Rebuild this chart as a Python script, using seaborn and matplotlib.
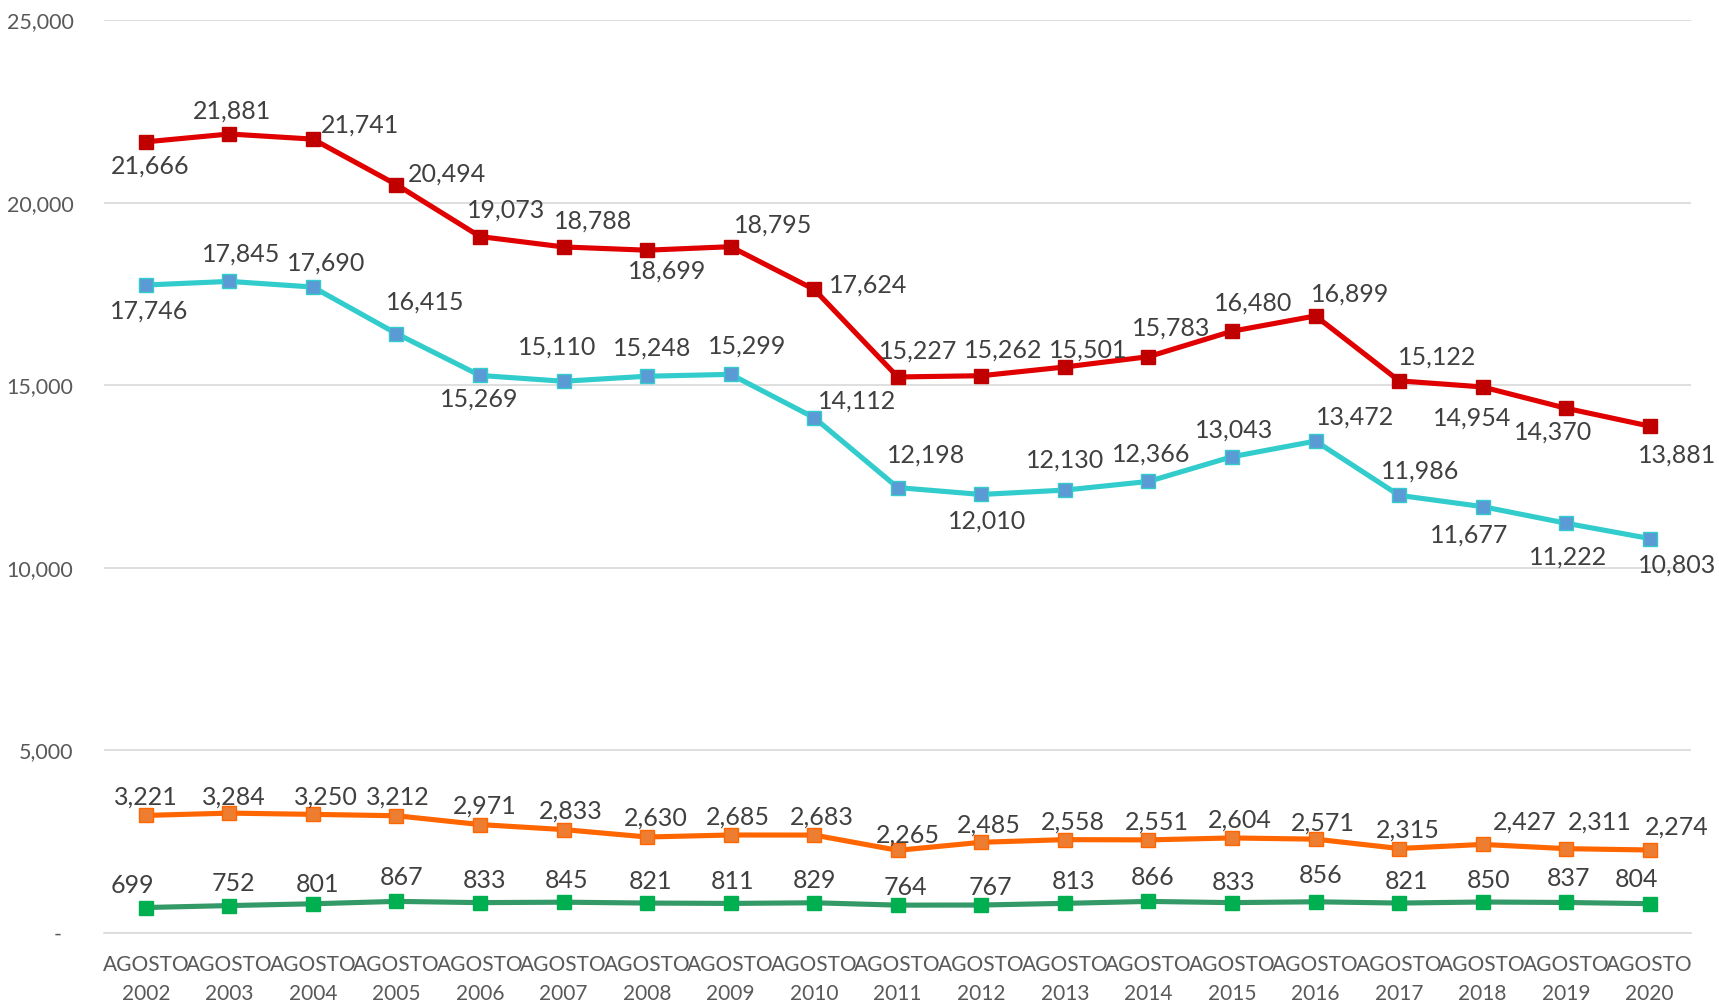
import numpy as np
import pandas as pd
import seaborn as sns
import matplotlib.pyplot as plt

years = list(range(2002, 2021))
tick_labels = ["AGOSTO\n%d" % y for y in years]

total = [21666, 21881, 21741, 20494, 19073, 18788, 18699, 18795, 17624, 15227,
         15262, 15501, 15783, 16480, 16899, 15122, 14954, 14370, 13881]
serie_b = [17746, 17845, 17690, 16415, 15269, 15110, 15248, 15299, 14112, 12198,
           12010, 12130, 12366, 13043, 13472, 11986, 11677, 11222, 10803]
serie_c = [3221, 3284, 3250, 3212, 2971, 2833, 2630, 2685, 2683, 2265,
           2485, 2558, 2551, 2604, 2571, 2315, 2427, 2311, 2274]
serie_d = [699, 752, 801, 867, 833, 845, 821, 811, 829, 764,
           767, 813, 866, 833, 856, 821, 850, 837, 804]

# label offsets (dx, dy) in screen px, y down
off_a = [(4, 22), (2, -21), (43, -13), (46, -10), (24, -24), (27, -24), (18, 19), (39, -20),
         (49, -4), (19, -24), (20, -23), (21, -15), (21, -26), (19, -26), (32, -20), (35, -22),
         (-10, 28), (-12, 22), (25, 26)]
off_b = [(3, 24), (11, -25), (12, -22), (26, -29), (-1, 22), (-6, -31), (5, -26), (15, -26),
         (39, -15), (26, -30), (5, 24), (0, -27), (3, -25), (2, -24), (36, -22), (19, -22),
         (-12, 26), (2, 31), (25, 24)]
off_c = [(0, -17), (4, -15), (12, -16), (1, -17), (4, -17), (7, -17), (8, -17), (7, -16),
         (7, -16), (9, -14), (7, -16), (7, -16), (8, -16), (7, -16), (7, -15), (8, -17),
         (38, -20), (31, -24), (25, -21)]
off_d = [(-12, -20), (4, -20), (4, -18), (5, -22), (4, -20), (3, -20), (3, -20), (2, -20),
         (0, -20), (7, -16), (8, -16), (8, -20), (4, -22), (1, -18), (5, -24), (7, -20),
         (5, -20), (2, -22), (-12, -22)]

series = [
    (total, off_a, "#E00000", "#C00000", "#C00000"),
    (serie_b, off_b, "#33CCCC", "#5B9BD5", "#33CCCC"),
    (serie_c, off_c, "#FF6600", "#ED7D31", "#FF6600"),
    (serie_d, off_d, "#339966", "#00B050", "#00B050"),
]

sns.set_style("white")
plt.rcParams['font.family'] = ['Lato', 'DejaVu Sans']

fig = plt.figure(figsize=(17.19, 10.05), dpi=100)
ax = fig.add_axes([0.0605, 0.0716, 0.9235, 0.9084])

x = np.arange(len(years))
k = 1.096 * 0.72
for vals, offs, lc, mc, me in series:
    sns.lineplot(x=x, y=vals, ax=ax, color=lc, linewidth=3.7, marker="s",
                 markersize=9.5, markerfacecolor=mc, markeredgecolor=me,
                 markeredgewidth=1, zorder=3)
    for i, v in enumerate(vals):
        dx, dy = offs[i]
        ax.annotate("{:,}".format(v), (x[i], v), xytext=(dx * k, -dy * k),
                    textcoords="offset points", ha="center", va="center",
                    fontsize=18, color="#404040", zorder=4)

ax.set_xlim(-0.5, len(years) - 0.5)
ax.set_ylim(0, 25000)
ax.set_yticks(range(0, 25001, 5000))
ax.set_yticklabels(["-  "] + ["{:,}".format(v) for v in range(5000, 25001, 5000)])
ax.set_xticks(x)
ax.set_xticklabels(tick_labels, linespacing=1.55)
ax.tick_params(axis="y", labelsize=15.5, labelcolor="#595959", length=0, pad=22)
ax.tick_params(axis="x", labelsize=15, labelcolor="#595959", length=0, pad=16)
ax.grid(axis="y", color="#D9D9D9", linewidth=1.2)
ax.set_axisbelow(True)
for s in ["top", "right", "left"]:
    ax.spines[s].set_visible(False)
ax.spines["bottom"].set_color("#D9D9D9")
ax.spines["bottom"].set_linewidth(1.2)

fig.savefig("out.png", dpi=100)
